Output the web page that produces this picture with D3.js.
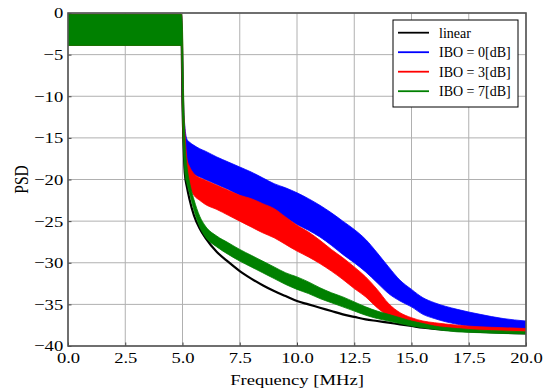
<!DOCTYPE html>
<html>
<head>
<meta charset="utf-8">
<script src="https://cdn.jsdelivr.net/npm/d3@7"></script>
<style>
  body { margin: 0; background: #fff; }
  text { font-family: "Liberation Serif", "Times New Roman", serif; }
</style>
</head>
<body>
<div id="chart"></div>
<script>
// frequency grid [MHz]
const freqMHz = [0, 4.95, 5.0, 5.05, 5.1, 5.2, 5.3, 5.5, 5.75, 6, 6.5, 7, 7.5, 8, 8.5, 9, 9.5, 10,
  10.5, 11, 11.5, 12, 12.5, 13, 13.5, 14, 14.5, 15, 15.5, 16, 17, 18, 19, 20];

// linear amplifier PSD
const linearPsd = [-1.8, -1.8, -11, -16, -19.2, -21.0, -22.3, -24.3, -25.9, -27.0, -28.7, -29.9, -31.0, -31.9,
  -32.7, -33.4, -34.0, -34.6, -35.0, -35.4, -35.8, -36.2, -36.5, -36.8, -37.0, -37.2, -37.4, -37.6,
  -37.8, -37.95, -38.15, -38.3, -38.4, -38.5];

// noisy spectra, kept as upper / lower envelope
const ibo0Upper = [-0.15, -0.15, -4, -11, -13.5, -15.2, -15.5, -15.9, -16.3, -16.6, -17.3, -17.9, -18.5, -19.1,
  -19.8, -20.5, -21.0, -21.6, -22.3, -23.1, -24.0, -25.0, -26.0, -27.2, -28.8, -30.5, -32.1, -33.2,
  -34.2, -34.8, -35.6, -36.2, -36.7, -37.0];
const ibo0Lower = [-3.9, -3.9, -11, -14, -17.5, -18.9, -19.1, -19.4, -19.7, -20.0, -20.6, -21.2, -21.9, -22.5,
  -23.2, -23.9, -24.6, -25.4, -26.1, -26.9, -27.9, -29.0, -30.0, -31.1, -32.4, -33.7, -34.6, -35.3,
  -36.2, -36.7, -37.4, -37.8, -38.0, -38.1];

const ibo3Upper = [-0.15, -0.15, -3, -11, -14, -17.6, -18.4, -19.3, -19.8, -20.1, -20.7, -21.3, -21.9, -22.3,
  -22.9, -23.5, -24.5, -25.5, -26.3, -27.3, -28.4, -29.4, -30.5, -31.7, -33.2, -34.9, -36.0, -36.6,
  -37.0, -37.2, -37.5, -37.7, -37.8, -37.9];
const ibo3Lower = [-3.9, -3.9, -12, -16, -17.8, -19.8, -20.8, -21.9, -22.5, -23.0, -23.6, -24.3, -25.0, -25.7,
  -26.4, -27.0, -27.8, -28.6, -29.3, -30.1, -31.0, -32.0, -33.1, -34.1, -35.4, -36.4, -37.0, -37.3,
  -37.6, -37.8, -38.0, -38.1, -38.2, -38.3];

const ibo7Upper = [-0.15, -0.15, -2, -10, -15, -18.5, -20.2, -22.4, -24.4, -25.6, -26.8, -27.6, -28.4, -29.1,
  -29.8, -30.5, -31.2, -31.7, -32.3, -33.0, -33.6, -34.1, -34.7, -35.3, -35.8, -36.2, -36.6, -37.0,
  -37.3, -37.6, -37.9, -38.1, -38.2, -38.3];
const ibo7Lower = [-3.9, -3.9, -12, -17, -19.2, -20.6, -21.6, -23.7, -25.7, -26.9, -28.1, -29.0, -29.8, -30.5,
  -31.2, -31.9, -32.6, -33.2, -33.7, -34.3, -34.8, -35.3, -35.8, -36.3, -36.7, -37.0, -37.3, -37.6,
  -37.8, -38.0, -38.3, -38.4, -38.5, -38.55];

const legendLabels = ['linear', 'IBO = 0[dB]', 'IBO = 3[dB]', 'IBO = 7[dB]'];
const legendColors = ['#000000', '#0000ff', '#ff0000', '#008000'];
const xTicks = [0, 2.5, 5, 7.5, 10, 12.5, 15, 17.5, 20];
const yTicks = [0, -5, -10, -15, -20, -25, -30, -35, -40];

const width = 547, height = 390;
const margin = {top: 13, right: 21, bottom: 44, left: 68};
const serif = '"Liberation Serif", "Times New Roman", serif';
const stretch = 1.2; // text in the source picture is a bit wider than tall

const svg = d3.select('#chart')
  .append('svg')
  .attr('width', width)
  .attr('height', height);

const xScale = d3.scaleLinear().domain([0, 20]).range([margin.left, width - margin.right]);
const yScale = d3.scaleLinear().domain([-40, 0]).range([height - margin.bottom, margin.top]);

svg.append('clipPath').attr('id', 'plot-clip')
  .append('rect')
  .attr('x', margin.left).attr('y', margin.top)
  .attr('width', xScale(20) - xScale(0)).attr('height', yScale(-40) - yScale(0));

// grid
svg.append('g').selectAll('line').data(xTicks).enter().append('line')
  .attr('x1', d => xScale(d)).attr('x2', d => xScale(d))
  .attr('y1', yScale(0)).attr('y2', yScale(-40))
  .attr('stroke', '#b0b0b0').attr('stroke-width', 1);
svg.append('g').selectAll('line').data(yTicks).enter().append('line')
  .attr('x1', xScale(0)).attr('x2', xScale(20))
  .attr('y1', d => yScale(d)).attr('y2', d => yScale(d))
  .attr('stroke', '#b0b0b0').attr('stroke-width', 1);

const plot = svg.append('g').attr('clip-path', 'url(#plot-clip)');

// linear first, then the bands in plot order
plot.append('path')
  .datum(freqMHz.map((f, i) => [f, linearPsd[i]]))
  .attr('fill', 'none')
  .attr('stroke', '#000')
  .attr('stroke-width', 2.2)
  .attr('d', d3.line().x(d => xScale(d[0])).y(d => yScale(d[1])).curve(d3.curveMonotoneX));

const bands = [
  {upper: ibo0Upper, lower: ibo0Lower, color: '#0000ff'},
  {upper: ibo3Upper, lower: ibo3Lower, color: '#ff0000'},
  {upper: ibo7Upper, lower: ibo7Lower, color: '#008000'}
];

const area = d3.area()
  .x(d => xScale(d.f))
  .y0(d => yScale(d.lo))
  .y1(d => yScale(d.hi))
  .curve(d3.curveMonotoneX);

bands.forEach(b => {
  plot.append('path')
    .datum(freqMHz.map((f, i) => ({f: f, hi: b.upper[i], lo: b.lower[i]})))
    .attr('fill', b.color)
    .attr('stroke', b.color)
    .attr('stroke-width', 0.8)
    .attr('d', area);
});

// axes, ticks pointing in
const xAxis = svg.append('g')
  .attr('transform', `translate(0,${yScale(-40)})`)
  .call(d3.axisBottom(xScale).tickValues(xTicks).tickFormat(d3.format('.1f')).tickSize(-3.5).tickPadding(6));
const yAxis = svg.append('g')
  .attr('transform', `translate(${xScale(0)},0)`)
  .call(d3.axisLeft(yScale).tickValues(yTicks).tickFormat(d3.format('d')).tickSize(-3.5).tickPadding(4));

[xAxis, yAxis].forEach(ax => {
  ax.attr('font-family', serif).attr('font-size', 15.5);
  ax.select('.domain').remove();
  ax.selectAll('.tick line').attr('stroke', '#444').attr('stroke-width', 1);
  ax.selectAll('.tick text')
    .attr('fill', '#000')
    .attr('transform', `scale(${stretch},1)`)
    .style('font-family', serif)
    .style('font-size', '15.5px');
});

// frame
svg.append('rect')
  .attr('x', xScale(0)).attr('y', yScale(0))
  .attr('width', xScale(20) - xScale(0)).attr('height', yScale(-40) - yScale(0))
  .attr('fill', 'none').attr('stroke', '#555').attr('stroke-width', 1.6);

svg.append('text')
  .attr('transform', `translate(${(xScale(0) + xScale(20)) / 2},385) scale(${stretch},1)`)
  .attr('text-anchor', 'middle')
  .style('font-size', '15.5px')
  .text('Frequency [MHz]');

svg.append('text')
  .attr('transform', `translate(28,${(yScale(0) + yScale(-40)) / 2}) scale(${stretch},1) rotate(-90)`)
  .attr('text-anchor', 'middle')
  .style('font-size', '15.5px')
  .text('PSD');

// legend
const legend = svg.append('g').attr('transform', 'translate(393,20)');
legend.append('rect')
  .attr('width', 125).attr('height', 87)
  .attr('fill', '#fff').attr('stroke', '#000').attr('stroke-width', 1);
legendLabels.forEach((lab, i) => {
  const y = 12.7 + i * 19.5;
  legend.append('line')
    .attr('x1', 5).attr('x2', 36).attr('y1', y).attr('y2', y)
    .attr('stroke', legendColors[i]).attr('stroke-width', 1.8);
  legend.append('text')
    .attr('x', 46).attr('y', y).attr('dy', '0.35em')
    .style('font-size', '14px')
    .text(lab);
});
</script>
</body>
</html>
